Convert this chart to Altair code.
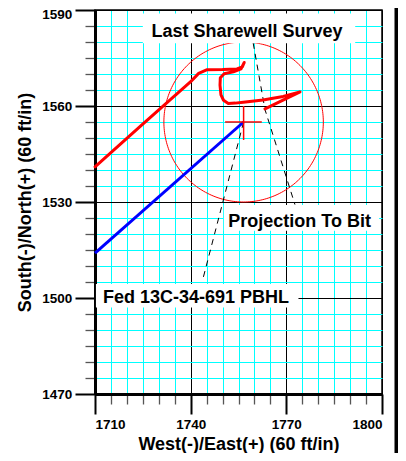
import altair as alt
import pandas as pd
import numpy as np

# ---- data ----
survey_x = [1710, 1724, 1740, 1742.5, 1745, 1750, 1754.5, 1756.2, 1756.8, 1755.8, 1753.4,
            1750.5, 1749.3, 1749.2, 1749.5, 1750.3, 1751.8, 1754, 1756.5, 1762.7, 1769, 1774.3, 1763.3]
survey_y = [1541, 1553.5, 1567.6, 1570.2, 1571.3, 1571.4, 1571.6, 1572.2, 1573.6, 1571.6, 1570.7,
            1570.1, 1568.8, 1566.5, 1563.5, 1561.8, 1560.8, 1560.9, 1561.2, 1561.9, 1563, 1564.4, 1559.1]

plan_x = [1710, 1756.6]
plan_y = [1514, 1555]

bit_x = 1756.6
bit_y = 1555.0
tolerance_radius = 25.0

cross_x = [1750.8, 1756.6]
cross_x2 = [1762.3, 1756.6]
cross_y = [1555.0, 1549.4]
cross_y2 = [1555.0, 1560.0]

leader_seg = ["a", "a", "a", "b", "b"]
leader_x = [1759.6, 1763.3, 1772.7, 1756.6, 1743.9]
leader_y = [1579.7, 1558.9, 1529.2, 1555.0, 1506.2]

label_text = ["Last Sharewell Survey", "Projection To Bit", "Fed 13C-34-691 PBHL"]
label_x = [1727.7, 1751.8, 1712.5]
label_y = [1581.7, 1522.3, 1498.3]
box_x = [1725.0, 1750.4, 1710.3]
box_x2 = [1791.6, 1799.1, 1773.8]
box_y = [1588.9, 1529.1, 1504.4]
box_y2 = [1579.6, 1521.0, 1497.0]

x_ticks = [1710, 1715, 1720, 1725, 1730, 1735, 1740, 1745, 1750, 1755, 1760, 1765, 1770,
           1775, 1780, 1785, 1790, 1795, 1800]
y_ticks = [1470, 1475, 1480, 1485, 1490, 1495, 1500, 1505, 1510, 1515, 1520, 1525, 1530,
           1535, 1540, 1545, 1550, 1555, 1560, 1565, 1570, 1575, 1580, 1585, 1590]

# ---- tables ----
survey_df = pd.DataFrame({"x": survey_x, "y": survey_y, "i": range(len(survey_x))})
plan_df = pd.DataFrame({"x": plan_x, "y": plan_y, "i": range(len(plan_x))})
theta = np.linspace(0, 2 * np.pi, 241)
circle_df = pd.DataFrame({"x": bit_x + tolerance_radius * np.cos(theta),
                          "y": bit_y + tolerance_radius * np.sin(theta),
                          "i": range(len(theta))})
cross_df = pd.DataFrame({"x": cross_x, "x2": cross_x2, "y": cross_y, "y2": cross_y2})
leader_df = pd.DataFrame({"seg": leader_seg, "x": leader_x, "y": leader_y, "i": range(len(leader_x))})
label_df = pd.DataFrame({"t": label_text, "x": label_x, "y": label_y,
                         "bx": box_x, "bx2": box_x2, "by": box_y, "by2": box_y2})

FONT = "Liberation Sans"
major = "datum.value % 30 === 0"

xscale = alt.Scale(domain=[1710, 1800], nice=False, zero=False)
yscale = alt.Scale(domain=[1470, 1590], nice=False, zero=False)


def make_axis(title, vals, **kw):
    return alt.Axis(
        title=title, values=vals, tickCount=500, format="d",
        labelExpr=f"{major} ? datum.label : ''",
        labelOverlap=False,
        grid=True,
        gridColor={"condition": {"test": major, "value": "#000000"}, "value": "#00FFFF"},
        gridWidth=1,
        tickSize={"condition": {"test": major, "value": 20}, "value": 10},
        tickColor={"condition": {"test": major, "value": "#000000"}, "value": "#555555"},
        tickWidth={"condition": {"test": major, "value": 2}, "value": 1.3},
        domainColor="#000000", domainWidth=3,
        labelFont=FONT, labelFontSize=13.5, labelFontWeight="bold", labelColor="#000000",
        labelPadding=3.3,
        titleFont=FONT, titleFontSize=18, titleFontWeight="bold", titleColor="#000000",
        titleBaseline="alphabetic", zindex=0, **kw)


x_enc = alt.X("x:Q", scale=xscale, axis=make_axis("West(-)/East(+) (60 ft/in)", x_ticks, titleY=55))
y_enc = alt.Y("y:Q", scale=yscale, axis=make_axis(
    "South(-)/North(+) (60 ft/in)", y_ticks,
    titleX=-64.7, titleY=192, titleAngle=-90,
    labelOffset={"condition": {"test": "datum.value === 1590", "value": 4}, "value": 0}))

base_x = alt.X("x:Q", scale=xscale)
base_y = alt.Y("y:Q", scale=yscale)

circle = alt.Chart(circle_df).mark_line(color="#FF0000", strokeWidth=1).encode(
    x=x_enc, y=y_enc, order="i:Q")
leaders = alt.Chart(leader_df).mark_line(color="#000000", strokeWidth=1, strokeDash=[6, 5]).encode(
    x=base_x, y=base_y, detail="seg:N", order="i:Q")
plan = alt.Chart(plan_df).mark_line(color="#0000FF", strokeWidth=3).encode(
    x=base_x, y=base_y, order="i:Q")
survey = alt.Chart(survey_df).mark_line(color="#FF0000", strokeWidth=3, strokeJoin="round",
                                        strokeCap="round").encode(x=base_x, y=base_y, order="i:Q")
cross = alt.Chart(cross_df).mark_rule(color="#FF0000", strokeWidth=1.5).encode(
    x=base_x, x2="x2:Q", y=base_y, y2="y2:Q")
boxes = alt.Chart(label_df).mark_rect(color="#FFFFFF").encode(
    x=alt.X("bx:Q", scale=xscale), x2="bx2:Q", y=alt.Y("by:Q", scale=yscale), y2="by2:Q")
texts = alt.Chart(label_df).mark_text(font=FONT, fontSize=18, fontWeight="bold", align="left",
                                      baseline="alphabetic", color="#000000").encode(
    x=base_x, y=base_y, text="t:N")
edge = alt.Chart(pd.DataFrame({"k": [0]})).mark_rect(color="#000000").encode(
    x=alt.value(299.5), x2=alt.value(330), y=alt.value(-20), y2=alt.value(470))

chart = alt.layer(circle, leaders, plan, survey, cross, boxes, texts, edge).properties(
    width=287, height=384,
    padding={"left": 87, "top": 2, "right": 16, "bottom": 59},
    autosize=alt.AutoSizeParams(type="none"),
    background="#FFFFFF",
).configure_view(stroke="#000000", strokeWidth=1.5)

chart.save("out.html", embed_options={"renderer": "svg", "actions": False})
